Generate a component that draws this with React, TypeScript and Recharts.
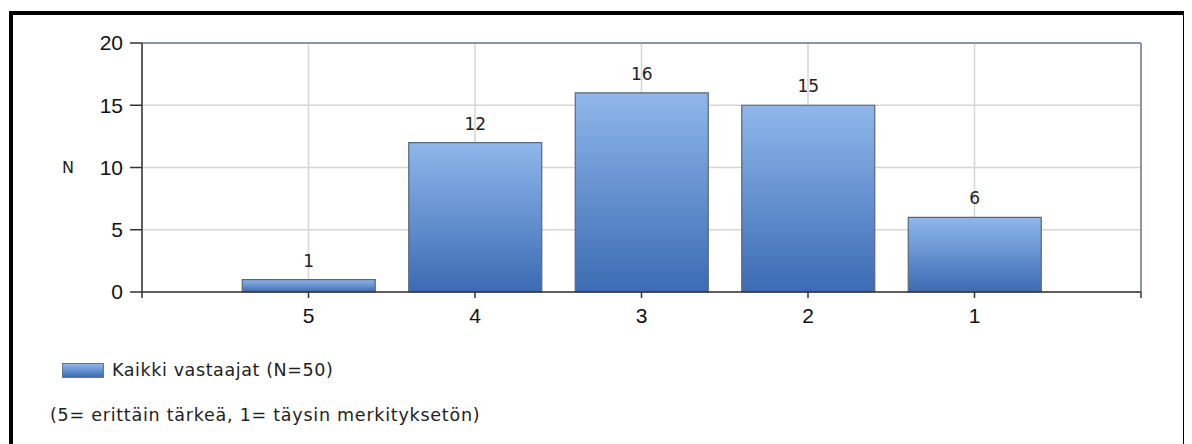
import {
  BarChart, Bar, XAxis, YAxis, CartesianGrid, LabelList, ReferenceLine,
} from "recharts";

const CATEGORIES = ["5", "4", "3", "2", "1"];
const VALUES = [1, 12, 16, 15, 6];
const Y_TICKS = [0, 5, 10, 15, 20];
const X_TICKS = [0, 1, 2, 3, 4, 5, 6];
const SERIES_NAME = "Kaikki vastaajat (N=50)";
const NOTE = "(5= erittäin tärkeä, 1= täysin merkityksetön)";
const Y_LABEL = "N";

const data = CATEGORIES.map((c, i) => ({ pos: i + 1, label: c, value: VALUES[i] }));

const AXIS_FONT = "'Liberation Sans', Arial, sans-serif";
const TEXT_FONT = "'DejaVu Sans', Verdana, sans-serif";

function xLabel(v: number) {
  const d = data.find((e) => e.pos === v);
  return d ? d.label : "";
}

export default function App() {
  return (
    <div style={{ position: "relative", width: 1176, height: 436, background: "#fff" }}>
      {/* outer frame */}
      <div
        style={{
          position: "absolute", left: 1, top: 3, width: 1170, height: 440,
          borderTop: "4px solid #000", borderLeft: "4px solid #000", borderRight: "4px solid #000",
        }}
      />
      <div style={{ position: "absolute", left: 0, top: 0 }}>
        <BarChart width={1176} height={330} data={data} margin={{ top: 35, right: 43, bottom: 16, left: 0 }}>
          <defs>
            <linearGradient id="barGrad" x1="0" y1="0" x2="0" y2="1">
              <stop offset="0%" stopColor="#8fb7eb" />
              <stop offset="100%" stopColor="#3b6bb3" />
            </linearGradient>
          </defs>
          <CartesianGrid stroke="#d6d6d6" strokeWidth={1.5} />
          <XAxis
            type="number" dataKey="pos" domain={[0, 6]} ticks={X_TICKS} height={30}
            tickFormatter={xLabel} tickSize={6} tickMargin={10}
            axisLine={{ stroke: "#333", strokeWidth: 1.5 }} tickLine={{ stroke: "#333", strokeWidth: 1.5 }}
            tick={{ fill: "#111", fontSize: 21, fontFamily: AXIS_FONT }}
          />
          <YAxis
            domain={[0, 20]} ticks={Y_TICKS} width={134} tickSize={12} tickMargin={7}
            axisLine={{ stroke: "#333", strokeWidth: 1.5 }} tickLine={{ stroke: "#333", strokeWidth: 1.5 }}
            tick={{ fill: "#111", fontSize: 21, fontFamily: AXIS_FONT }}
            label={{ value: Y_LABEL, position: "insideLeft", offset: 54, fill: "#222", fontSize: 16, fontFamily: TEXT_FONT }}
          />
          <ReferenceLine y={20} stroke="#8a97aa" strokeWidth={2} />
          <ReferenceLine x={6} stroke="#8a97aa" strokeWidth={2} />
          <Bar dataKey="value" barSize={133} fill="url(#barGrad)" stroke="#5c6677" strokeWidth={1.2} isAnimationActive={false}>
            <LabelList dataKey="value" position="top" offset={13} fill="#222" fontSize={17} fontFamily={TEXT_FONT} />
          </Bar>
        </BarChart>
      </div>
      {/* legend */}
      <div style={{ position: "absolute", left: 54, top: 352, display: "flex", alignItems: "center" }}>
        <div
          style={{
            width: 40, height: 13, border: "1px solid #6b7584",
            background: "linear-gradient(#8fb7eb, #3b6bb3)",
          }}
        />
        <span style={{ marginLeft: 8, fontFamily: TEXT_FONT, fontSize: 17.5, letterSpacing: 0.6, color: "#222" }}>{SERIES_NAME}</span>
      </div>
      <div style={{ position: "absolute", left: 42, top: 397, fontFamily: TEXT_FONT, fontSize: 17.5, letterSpacing: 0.75, color: "#222", whiteSpace: "nowrap" }}>
        {NOTE}
      </div>
    </div>
  );
}
